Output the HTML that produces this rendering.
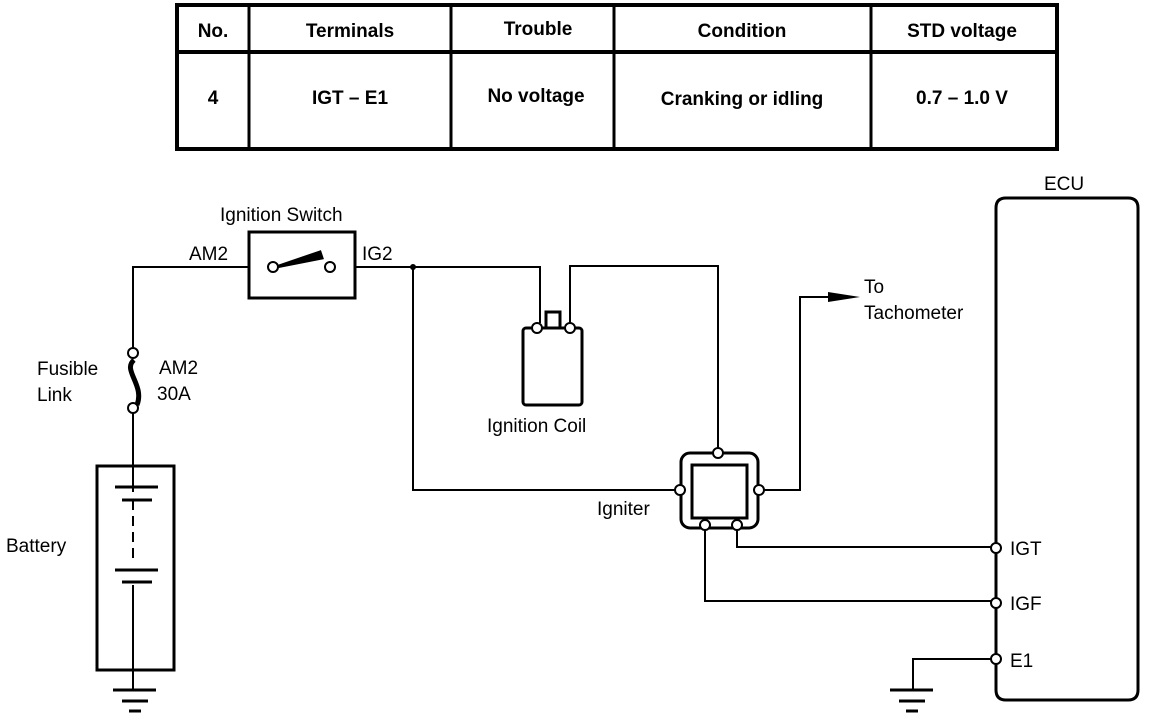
<!DOCTYPE html>
<html><head><meta charset="utf-8"><style>
body{margin:0;background:#fff;}
svg{display:block;font-family:"Liberation Sans",sans-serif;}
</style></head><body>
<svg width="1152" height="720" viewBox="0 0 1152 720">
<g fill="none" stroke="#000">
<rect x="177" y="5" width="880" height="144" stroke-width="4"/>
<line x1="177" y1="52" x2="1057" y2="52" stroke-width="4"/>
<line x1="249" y1="5" x2="249" y2="149" stroke-width="3"/>
<line x1="451" y1="5" x2="451" y2="149" stroke-width="3"/>
<line x1="614" y1="5" x2="614" y2="149" stroke-width="3"/>
<line x1="871" y1="5" x2="871" y2="149" stroke-width="3"/>
</g>
<g font-weight="bold" font-size="19" text-anchor="middle" fill="#000">
<text x="213" y="37">No.</text><text x="350" y="37">Terminals</text><text x="538" y="35">Trouble</text><text x="742" y="37">Condition</text><text x="962" y="37">STD voltage</text>
<text x="213" y="104">4</text><text x="350" y="104">IGT – E1</text><text x="536" y="102">No voltage</text><text x="742" y="105">Cranking or idling</text><text x="962" y="104">0.7 – 1.0 V</text>
</g>
<g fill="none" stroke="#000" stroke-width="2">
<polyline points="133,348 133,267 248,267"/>
<line x1="355" y1="267" x2="413" y2="267"/>
<polyline points="133,413 133,465"/>
<polyline points="133,670 133,690"/>
<polyline points="413,267 540,267 540,323"/>
<polyline points="570,323 570,266 718,266 718,448"/>
<polyline points="413,267 413,490 676,490"/>
<polyline points="762,490 800,490 800,297 835,297"/>
<polyline points="705,530 705,601 992,601"/>
<polyline points="737,530 737,547 992,547"/>
<polyline points="992,659 913,659 913,690"/>
<line x1="133" y1="465" x2="133" y2="492"/>
<line x1="133" y1="500" x2="133" y2="560" stroke-dasharray="10,6"/>
<line x1="133" y1="585" x2="133" y2="670"/>
</g>
<g stroke="#000" stroke-width="3" fill="none">
<rect x="249" y="232" width="106" height="66"/>
<rect x="97" y="466" width="77" height="204"/>
<path d="M134,360 C122,370 145,385 137,405"  stroke-width="5"/>
<rect x="523" y="328" width="59" height="77" rx="3"/>
<rect x="546" y="312" width="14" height="16"/>
<rect x="681" y="453" width="77" height="75" rx="9"/>
<rect x="692" y="465" width="55" height="53"/>
<path d="M1006,198 H1128 Q1138,198 1138,208 V690 Q1138,700 1128,700 H1006 Q996,700 996,690 V208 Q996,198 1006,198 Z"/>
<line x1="115" y1="487" x2="158" y2="487"/><line x1="122" y1="500" x2="152" y2="500"/>
<line x1="115" y1="570" x2="158" y2="570"/><line x1="122" y1="582" x2="152" y2="582"/>
<line x1="113" y1="690" x2="156" y2="690"/><line x1="122" y1="701" x2="148" y2="701"/><line x1="129" y1="711" x2="141" y2="711"/>
<line x1="890" y1="690" x2="933" y2="690"/><line x1="899" y1="701" x2="925" y2="701"/><line x1="906" y1="711" x2="918" y2="711"/>
</g>
<path d="M276,267 L320,252 L322,258 Z" fill="#000" stroke="#000" stroke-width="3"/>
<path d="M828,292 L860,297 L828,302 Z" fill="#000"/>
<circle cx="413" cy="267" r="3" fill="#000"/>
<g fill="#fff" stroke="#000" stroke-width="2">
<circle cx="273" cy="267" r="5"/><circle cx="330" cy="267" r="5"/>
<circle cx="133" cy="353" r="5"/><circle cx="133" cy="408" r="5"/>
<circle cx="537" cy="328" r="5"/><circle cx="570" cy="328" r="5"/>
<circle cx="718" cy="453" r="5"/><circle cx="680" cy="490" r="5"/><circle cx="759" cy="490" r="5"/>
<circle cx="705" cy="525" r="5"/><circle cx="737" cy="525" r="5"/>
<circle cx="996" cy="548" r="5"/><circle cx="996" cy="603" r="5"/><circle cx="996" cy="659" r="5"/>
</g>
<g font-size="19" fill="#000">
<text x="220" y="221">Ignition Switch</text>
<text x="189" y="260">AM2</text><text x="362" y="260">IG2</text>
<text x="37" y="375">Fusible</text><text x="37" y="401">Link</text>
<text x="159" y="374">AM2</text><text x="157" y="400">30A</text>
<text x="6" y="552">Battery</text>
<text x="487" y="432">Ignition Coil</text>
<text x="597" y="515">Igniter</text>
<text x="864" y="293">To</text><text x="864" y="319">Tachometer</text>
<text x="1044" y="190">ECU</text>
<text x="1010" y="555">IGT</text><text x="1010" y="610">IGF</text><text x="1010" y="667">E1</text>
</g>
</svg>
</body></html>
